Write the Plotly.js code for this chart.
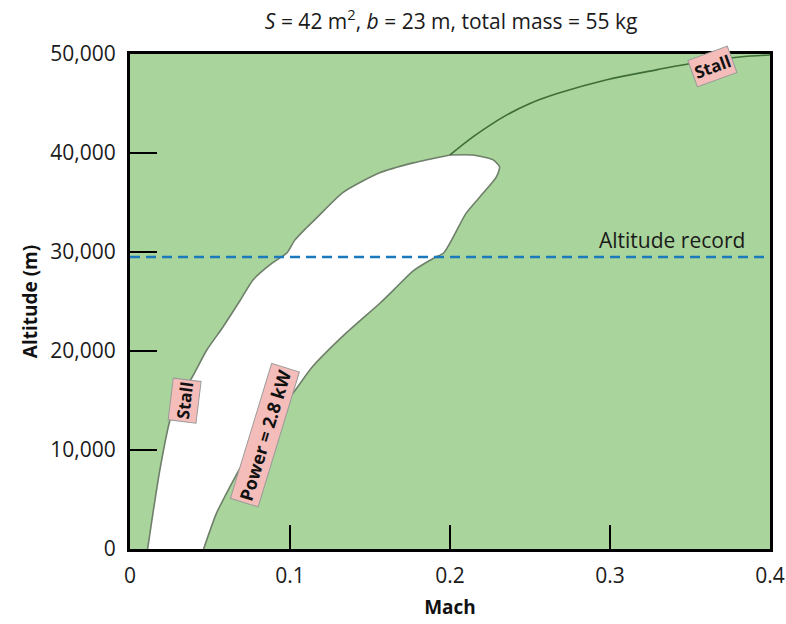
<!DOCTYPE html>
<html>
<head>
<meta charset="utf-8">
<script src="https://cdn.plot.ly/plotly-3.0.1.min.js"></script>
<style>html,body{margin:0;padding:0;background:#fff}#chart{width:786px;height:624px}</style>
</head>
<body>
<div id="chart"></div>
<script>
// Lower stall boundary (left edge of the flight envelope), Mach vs altitude (m)
const stallLowerMach = [0.011, 0.0146, 0.019, 0.025, 0.031, 0.039, 0.048, 0.058, 0.069, 0.077, 0.089, 0.098, 0.103, 0.110, 0.117, 0.133, 0.156, 0.177, 0.2];
const stallLowerAlt  = [0, 3900, 8300, 13000, 15300, 17400, 20100, 22400, 25150, 27200, 28900, 29900, 31200, 32400, 33500, 36000, 38000, 39000, 39800];
// Upper stall line continuing beyond the envelope
const stallUpperMach = [0.2, 0.215, 0.235, 0.25, 0.267, 0.298, 0.329, 0.356, 0.381, 0.4];
const stallUpperAlt  = [39800, 41700, 43800, 45000, 46000, 47400, 48400, 49200, 49700, 49900];
// Power = 2.8 kW boundary (right edge), bottom to tip to junction
const powerMach = [0.046, 0.054, 0.0625, 0.0706, 0.0875, 0.1, 0.114, 0.135, 0.156, 0.165, 0.177, 0.19, 0.196, 0.202, 0.21, 0.221, 0.229, 0.231, 0.227, 0.214, 0.2];
const powerAlt  = [0, 3600, 6300, 8700, 13300, 15350, 18400, 21800, 24800, 26200, 28100, 29400, 29900, 31500, 33900, 36000, 37600, 38600, 39300, 39800, 39800];
// Altitude record
const recordMach = [0, 0.4];
const recordAlt = [29500, 29500];
const xTicks = [0, 0.1, 0.2, 0.3, 0.4];
const xTickText = ['0', '0.1', '0.2', '0.3', '0.4'];
const yTicks = [0, 10000, 20000, 30000, 40000, 50000];
const yTickText = ['0', '10,000', '20,000', '30,000', '40,000', '50,000'];

const envX = stallLowerMach.concat(powerMach.slice().reverse());
const envY = stallLowerAlt.concat(powerAlt.slice().reverse());

const FONT = '"Open Sans", "Noto Sans", sans-serif';
const traces = [
  {x: envX, y: envY, mode: 'lines', fill: 'toself', fillcolor: '#ffffff',
   line: {color: '#6e7f6a', width: 1.6, shape: 'spline', smoothing: 0.6}, hoverinfo: 'skip', showlegend: false},
  {x: stallUpperMach, y: stallUpperAlt, mode: 'lines',
   line: {color: '#3e6d38', width: 1.6, shape: 'spline', smoothing: 1}, showlegend: false},
  {x: recordMach, y: recordAlt, mode: 'lines',
   line: {color: '#1a78bd', width: 2.5, dash: '10px,6px'}, showlegend: false}
];

const boxAnn = (x, y, text, angle, size) => ({
  x: x, y: y, xref: 'x', yref: 'y', text: '<b>' + text + '</b>', showarrow: false,
  textangle: angle, bgcolor: '#f5bdb9', bordercolor: '#9a9a9a', borderwidth: 1, borderpad: 2,
  font: {family: FONT, size: size, color: '#111'}
});

const layout = {
  width: 786, height: 624,
  margin: {l: 130, r: 16, t: 54, b: 75},
  paper_bgcolor: '#ffffff', plot_bgcolor: '#a9d49b',
  font: {family: FONT, color: '#1a1a1a'},
  title: {text: '<i>S</i> = 42 m<sup>2</sup>, <i>b</i> = 23 m, total mass = 55 kg',
          x: 0.574, xanchor: 'center', y: 0.965, yanchor: 'middle',
          font: {family: FONT, size: 21, color: '#1a1a1a'}},
  xaxis: {range: [0, 0.4], tickvals: xTicks, ticktext: xTickText, ticks: 'inside', ticklen: 24,
          tickwidth: 2, tickcolor: '#000', showline: true, linewidth: 3, linecolor: '#000', mirror: true,
          showgrid: false, zeroline: false, ticklabelstandoff: 6,
          tickfont: {size: 21, family: FONT, color: '#1a1a1a'},
          title: {text: '<b>Mach</b>', font: {size: 19, family: FONT, color: '#111'}, standoff: 13}},
  yaxis: {range: [0, 50000], tickvals: yTicks, ticktext: yTickText, ticks: 'inside', ticklen: 27,
          tickwidth: 2, tickcolor: '#000', showline: true, linewidth: 3, linecolor: '#000', mirror: true,
          showgrid: false, zeroline: false, ticklabelstandoff: 7,
          tickfont: {size: 21, family: FONT, color: '#1a1a1a'},
          title: {text: '<b>Altitude (m)</b>', font: {size: 19, family: FONT, color: '#111'}, standoff: 8}},
  annotations: [
    boxAnn(0.0338, 14950, 'Stall', -83, 17),
    boxAnn(0.0844, 11500, 'Power = 2.8 kW', -73, 18),
    boxAnn(0.364, 48700, 'Stall', -20, 17),
    {x: 0.339, y: 31200, xref: 'x', yref: 'y', text: 'Altitude record', showarrow: false,
     font: {family: FONT, size: 21, color: '#1a1a1a'}}
  ]
};

Plotly.newPlot('chart', traces, layout, {displayModeBar: false, staticPlot: true});
</script>
</body>
</html>
